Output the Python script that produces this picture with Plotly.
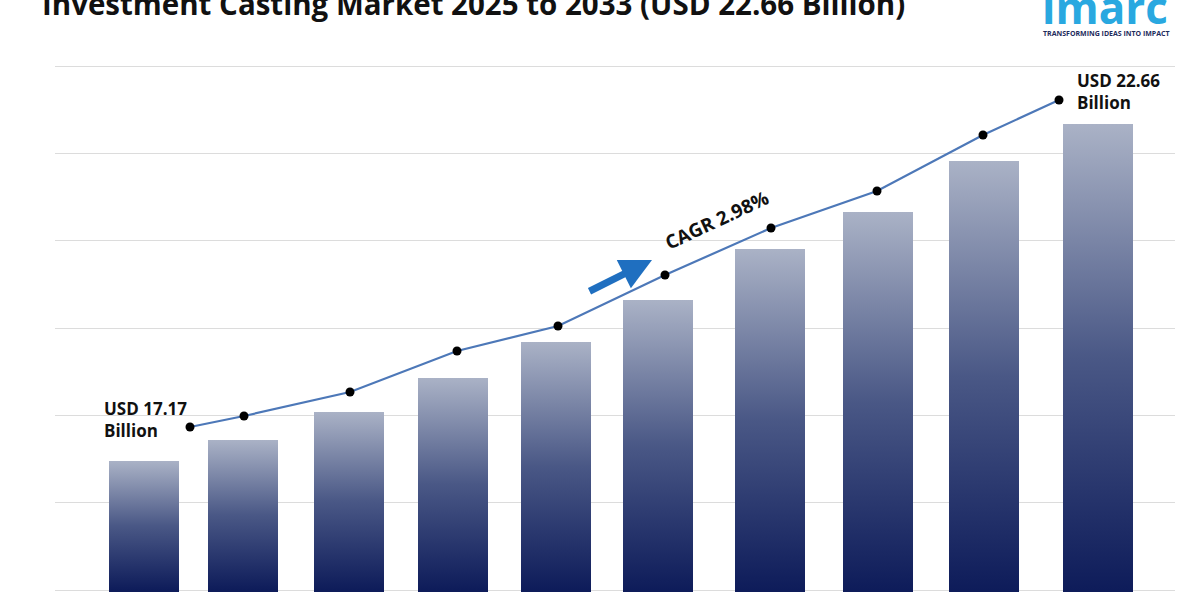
import plotly.graph_objects as go

years = ["2025","2026","2027","2028","2029","2030","2031","2032","2033","2034"]
bar_pos = [144, 243, 349, 453, 556, 658, 770, 878, 984, 1098]
bar_vals = [129, 150, 178, 212, 248, 290, 341, 378, 429, 466]
line_pos = [190, 244, 350, 457, 558, 665, 771, 877, 983, 1059]
line_vals = [163, 174, 198, 239, 264, 315, 362, 399, 455, 490]
bar_w = 70

fig = go.Figure()
for p, v in zip(bar_pos, bar_vals):
    fig.add_trace(go.Scatter(
        x=[p - bar_w/2, p + bar_w/2, p + bar_w/2, p - bar_w/2, p - bar_w/2],
        y=[-2, -2, v, v, -2], mode="lines", line=dict(width=0),
        fill="toself",
        fillgradient=dict(type="vertical", start=0, stop=v,
                          colorscale=[[0, "#0e1c5a"], [0.5, "#4a5886"], [1, "#aab2c6"]]),
        hoverinfo="skip", showlegend=False))

fig.add_trace(go.Scatter(x=line_pos, y=line_vals, mode="lines+markers",
                         line=dict(color="#4d78b8", width=2.2),
                         marker=dict(color="black", size=9), showlegend=False))

F = "Open Sans, Liberation Sans, sans-serif"
anns = [
    dict(x=(40-55)/1120, y=1, xref="paper", yref="paper", xanchor="left", yanchor="middle", yshift=-3,
         text="<b>Investment Casting Market 2025 to 2033 (USD 22.66 Billion)</b>",
         font=dict(size=29.5, color="#111", family=F), showarrow=False),
    dict(x=(1105-55)/1120, y=1, xref="paper", yref="paper", xanchor="center", yanchor="middle", yshift=-7,
         text="<b>imarc</b>", font=dict(size=44, color="#29a8e0", family=F), showarrow=False),
    dict(x=(1106-55)/1120, y=1, xref="paper", yref="paper", xanchor="center", yanchor="middle", yshift=-33,
         text="<b>TRANSFORMING IDEAS INTO IMPACT</b>", font=dict(size=7, color="#1d2b5c", family=F), showarrow=False),
    dict(x=102, y=171, xref="x", yref="y", xanchor="left", yanchor="middle", align="left",
         text="<b>USD 17.17<br>Billion</b>", font=dict(size=17, color="#111", family=F), showarrow=False),
    dict(x=1075, y=499, xref="x", yref="y", xanchor="left", yanchor="middle", align="left",
         text="<b>USD 22.66<br>Billion</b>", font=dict(size=17, color="#111", family=F), showarrow=False),
    dict(x=717, y=370, xref="x", yref="y", textangle=-25,
         text="<b>CAGR 2.98%</b>", font=dict(size=19, color="#111", family=F), showarrow=False),
    dict(x=652, y=330, ax=588, ay=298, xref="x", yref="y", axref="x", ayref="y",
         text="", showarrow=True, arrowhead=2, arrowsize=0.9, arrowwidth=7, arrowcolor="#1f6fc0"),
]
fig.update_layout(
    width=1200, height=600, margin=dict(l=55, r=25, t=0, b=0),
    plot_bgcolor="white", paper_bgcolor="white", annotations=anns,
    xaxis=dict(range=[55, 1175], visible=False),
    yaxis=dict(range=[-10, 590], tick0=0, dtick=87.3, showgrid=True, gridcolor="#dcdcdc",
               zeroline=False, showticklabels=False),
)
fig.write_html("out.html", config={"displayModeBar": False},
               post_script="document.body.style.margin='0';")
